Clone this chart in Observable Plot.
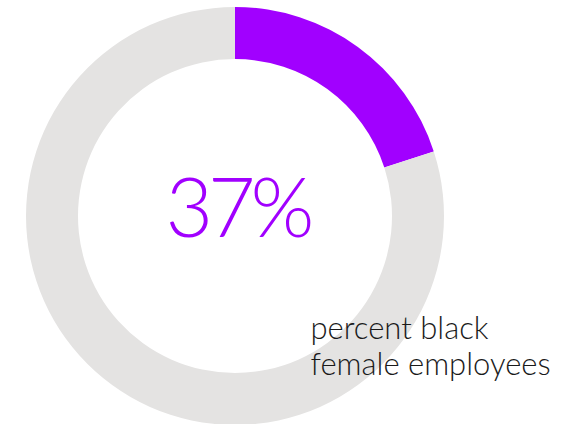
<!DOCTYPE html>
<html>
<head>
<meta charset="utf-8">
<script src="https://cdn.jsdelivr.net/npm/d3@7"></script>
<script src="https://cdn.jsdelivr.net/npm/@observablehq/plot@0.6"></script>
<style>
  html, body { margin: 0; padding: 0; background: #fff; }
  #chart svg { display: block; }
  #chart g[font-size="82"] { letter-spacing: -5px; }
</style>
</head>
<body>
<div id="chart"></div>
<script>
// Data
const segments = ["black female employees", "other"];
const shares = [0.2, 0.8];
const segmentColors = ["#A100FF", "#E4E3E2"];
const bigLabel = ["37%"];
const caption = ["percent black\nfemale employees"];

const table = segments.map((s, i) => ({segment: s, share: shares[i], color: segmentColors[i]}));

const OUTER = 209, INNER = 157;

function donut(index, scales, values, dimensions, context) {
  const cx = scales.x(0), cy = scales.y(0);
  const ro = scales.x(OUTER) - cx, ri = scales.x(INNER) - cx;
  const pie = d3.pie().sort(null).value(d => d.share)(table);
  const arc = d3.arc().innerRadius(ri).outerRadius(ro);
  const g = d3.create("svg:g").attr("transform", `translate(${cx},${cy})`);
  g.selectAll("path").data(pie).join("path")
    .attr("d", arc)
    .attr("fill", d => d.data.color);
  return g.node();
}

const chart = Plot.plot({
  width: 572,
  height: 424,
  margin: 0,
  x: {domain: [-235, 337], axis: null},
  y: {domain: [-208, 216], axis: null},
  marks: [
    donut,
    Plot.text(bigLabel, {
      x: () => 2, y: () => 6, text: d => d,
      fontSize: 82, fontWeight: 300, fill: "#A100FF",
      textAnchor: "middle", lineAnchor: "middle",
      fontFamily: "Lato"
    }),
    Plot.text(caption, {
      x: () => 75, y: () => -129.2, text: d => d,
      fontSize: 31, fontWeight: 300, fill: "#1a1a1a",
      textAnchor: "start", lineAnchor: "middle", lineHeight: 1.14,
      fontFamily: "Lato"
    })
  ]
});
document.getElementById("chart").append(chart);
</script>
</body>
</html>
